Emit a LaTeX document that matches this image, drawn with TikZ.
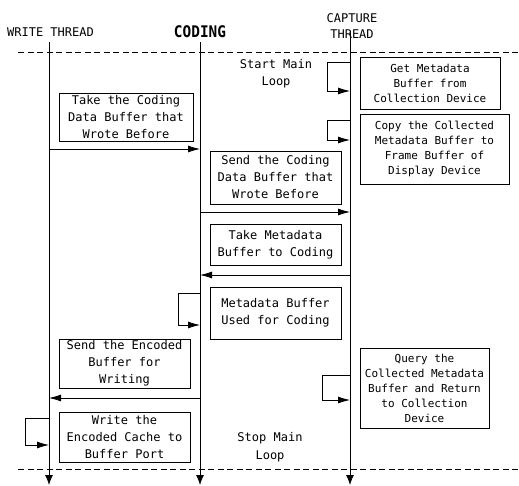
\documentclass[tikz,border=0pt]{standalone}
\usepackage{fontspec}
\setmainfont{DejaVu Sans Mono}
\newfontfamily\hdfont[FakeStretch=0.9]{DejaVu Sans Mono Bold}
\usetikzlibrary{arrows.meta}
\begin{document}
\begin{tikzpicture}[x=1pt,y=-1pt,
  lbl/.style={font=\fontsize{12}{17}\selectfont, align=center, inner sep=0pt},
  boxL/.style={draw, line width=0.8pt, font=\fontsize{12}{17}\selectfont, align=center, inner sep=0pt},
  boxR/.style={draw, line width=0.8pt, font=\fontsize{11}{15}\selectfont, align=center, inner sep=0pt},
  life/.style={line width=0.8pt, -{Latex[length=10pt,width=8pt]}},
  msg/.style={line width=0.8pt, -{Latex[length=12pt,width=7pt]}},
  sep/.style={line width=0.8pt, dash pattern=on 6pt off 3.5pt}]
\useasboundingbox (0,0) rectangle (519,486);

% headers
\node[lbl] (hw) at (50.5,32) {WRITE THREAD};
\node[lbl, font=\hdfont\fontsize{16}{17}\selectfont] (hc) at (200,31.5) {CODING};
\node[lbl, font=\fontsize{12}{16}\selectfont] (hp) at (352,26) {CAPTURE\\THREAD};

% separators
\coordinate (s1a) at (18,52); \coordinate (s1b) at (519,52);
\coordinate (s2a) at (18,469); \coordinate (s2b) at (519,469);
\draw[sep] (s1a) -- (s1b);
\draw[sep] (s2a) -- (s2b);

% lifelines
\coordinate (wt) at (49,42);  \coordinate (wb) at (49,485);
\coordinate (ct) at (200,42); \coordinate (cb) at (200,485);
\coordinate (pt) at (350,32); \coordinate (pb) at (350,485);
\draw[life] (wt) -- (wb);
\draw[life] (ct) -- (cb);
\draw[life] (pt) -- (pb);

% free labels
\node[lbl] (start) at (276,73.5) {Start Main\\Loop};
\node[lbl, font=\fontsize{12}{18}\selectfont] (stop) at (270,447) {Stop Main\\Loop};

% boxes
\node[boxR, minimum width=140, minimum height=52] (b1) at (430,83)
  {Get Metadata\\Buffer from\\Collection Device};
\node[boxR, minimum width=149, minimum height=70] (b2) at (434.5,149)
  {Copy the Collected\\Metadata Buffer to\\Frame Buffer of\\Display Device};
\node[boxL, minimum width=134, minimum height=48] (b3) at (126,117)
  {Take the Coding\\Data Buffer that\\Wrote Before};
\node[boxL, minimum width=131, minimum height=53] (b4) at (275.5,177.5)
  {Send the Coding\\Data Buffer that\\Wrote Before};
\node[boxL, minimum width=131, minimum height=41] (b5) at (275.5,244.5)
  {Take Metadata\\Buffer to Coding};
\node[boxL, minimum width=131, minimum height=52] (b6) at (275.5,313)
  {Metadata Buffer\\Used for Coding};
\node[boxL, minimum width=131, minimum height=49] (b7) at (124.5,363.5)
  {Send the Encoded\\Buffer for\\Writing};
\node[boxL, minimum width=131, minimum height=50] (b8) at (124.5,437)
  {Write the\\Encoded Cache to\\Buffer Port};
\node[boxR, minimum width=129, minimum height=80] (b9) at (424.5,388)
  {Query the\\Collected Metadata\\Buffer and Return\\to Collection\\Device};

% messages between lifelines
\coordinate (m1a) at (49,149);  \coordinate (m1b) at (200,149);
\coordinate (m2a) at (200,212); \coordinate (m2b) at (350,212);
\coordinate (m3a) at (350,275); \coordinate (m3b) at (200,275);
\coordinate (m4a) at (200,398); \coordinate (m4b) at (49,398);
\draw[msg] (m1a) -- (m1b);
\draw[msg] (m2a) -- (m2b);
\draw[msg] (m3a) -- (m3b);
\draw[msg] (m4a) -- (m4b);

% self loops
\coordinate (l1a) at (350,62);  \coordinate (l1b) at (327,62);
\coordinate (l1c) at (327,91);  \coordinate (l1d) at (350,91);
\draw[msg] (l1a) -- (l1b) -- (l1c) -- (l1d);
\coordinate (l2a) at (350,120); \coordinate (l2b) at (327,120);
\coordinate (l2c) at (327,140); \coordinate (l2d) at (350,140);
\draw[msg] (l2a) -- (l2b) -- (l2c) -- (l2d);
\coordinate (l3a) at (200,293); \coordinate (l3b) at (178,293);
\coordinate (l3c) at (178,325); \coordinate (l3d) at (200,325);
\draw[msg] (l3a) -- (l3b) -- (l3c) -- (l3d);
\coordinate (l4a) at (350,375); \coordinate (l4b) at (322,375);
\coordinate (l4c) at (322,400); \coordinate (l4d) at (350,400);
\draw[msg] (l4a) -- (l4b) -- (l4c) -- (l4d);
\coordinate (l5a) at (49,418);  \coordinate (l5b) at (25,418);
\coordinate (l5c) at (25,445);  \coordinate (l5d) at (49,445);
\draw[msg] (l5a) -- (l5b) -- (l5c) -- (l5d);
\end{tikzpicture}
\end{document}
